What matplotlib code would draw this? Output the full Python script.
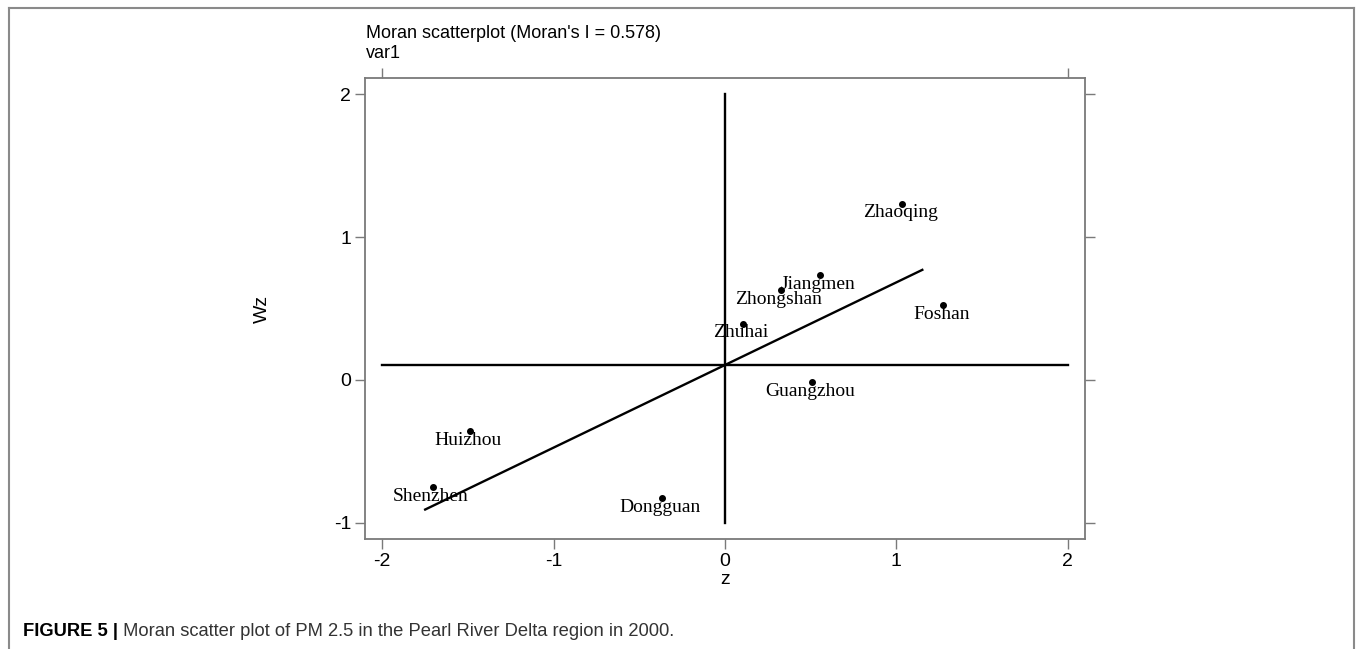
import matplotlib.pyplot as plt
from matplotlib.lines import Line2D

# Data
cities = ['Zhaoqing', 'Jiangmen', 'Zhongshan', 'Foshan', 'Zhuhai',
          'Guangzhou', 'Huizhou', 'Shenzhen', 'Dongguan']
z = [1.035, 0.554, 0.324, 1.274, 0.106, 0.509, -1.490, -1.704, -0.367]
wz = [1.231, 0.734, 0.629, 0.524, 0.392, -0.016, -0.357, -0.750, -0.827]

moran_i = 0.578
wz_mean = 0.105
fit_x = [-1.749, 1.151]
x_ticks = [-2, -1, 0, 1, 2]
y_ticks = [-1, 0, 1, 2]

W, H = 1357, 649
fig = plt.figure(figsize=(W / 100, H / 100), dpi=100)

# axes box in pixel terms: left 365, right 1085, top 78, bottom 539
ax = fig.add_axes([365 / W, 1 - 539 / H, 720 / W, 461 / H])
ax.set_xlim(-2.1, 2.1)
ax.set_ylim(-1.112, 2.112)

sans = ['Liberation Sans', 'DejaVu Sans']
serif = ['Liberation Serif', 'DejaVu Serif']
grey = '#7a7a7a'

for s in ax.spines.values():
    s.set_color(grey)
    s.set_linewidth(1.3)

ax.set_xticks(x_ticks)
ax.set_yticks(y_ticks)
ax.set_xticklabels([str(t) for t in x_ticks], family=sans, fontsize=14)
ax.set_yticklabels([str(t) for t in y_ticks], family=sans, fontsize=14)
ax.tick_params(direction='out', length=7, width=1, color=grey, pad=3,
               right=True, labelright=False)

top = ax.secondary_xaxis('top')
top.set_xticks([-2, 2])
top.set_xticklabels([])
top.tick_params(direction='out', length=7, width=1, color=grey)
top.spines['top'].set_visible(False)

ax.set_xlabel('z', family=sans, fontsize=14, labelpad=1)
ax.set_ylabel('Wz', family=sans, fontsize=14)
ax.yaxis.set_label_coords(-0.13, 0.5)

# reference lines and fit
ax.plot([x_ticks[0], x_ticks[-1]], [wz_mean, wz_mean], color='black', lw=1.7)
ax.plot([0, 0], [y_ticks[0], y_ticks[-1]], color='black', lw=1.7)
ax.plot(fit_x, [wz_mean + moran_i * v for v in fit_x], color='black', lw=1.7)

ax.scatter(z, wz, s=16, color='black', zorder=3)
for name, xv, yv in zip(cities, z, wz):
    ax.annotate(name, (xv, yv), xytext=(-2, -9), textcoords='offset pixels',
                ha='center', va='center', family=serif, fontsize=14)

fig.text(366 / W, 1 - 33 / H, "Moran scatterplot (Moran's I = %.3f)" % moran_i,
         family=sans, fontsize=13, va='center', ha='left')
fig.text(366 / W, 1 - 54 / H, 'var1', family=sans, fontsize=13,
         va='center', ha='left')

# caption
t1 = fig.text(23 / W, 1 - 632 / H, 'FIGURE 5 |', family=sans, fontsize=13.2,
              fontweight='bold', va='center', ha='left')
ax.annotate(' Moran scatter plot of PM 2.5 in the Pearl River Delta region in 2000.',
            xy=(1, 0.5), xycoords=t1, va='center', ha='left',
            family=sans, fontsize=13.2, color='#333333')

# outer frame
frame = dict(color='#8a8a8a', lw=1.5, transform=fig.transFigure)
fig.add_artist(Line2D([9 / W, 9 / W], [0, 1 - 8 / H], **frame))
fig.add_artist(Line2D([1354 / W, 1354 / W], [0, 1 - 8 / H], **frame))
fig.add_artist(Line2D([9 / W, 1354 / W], [1 - 8 / H, 1 - 8 / H], **frame))

fig.savefig('out.png', dpi=100)
